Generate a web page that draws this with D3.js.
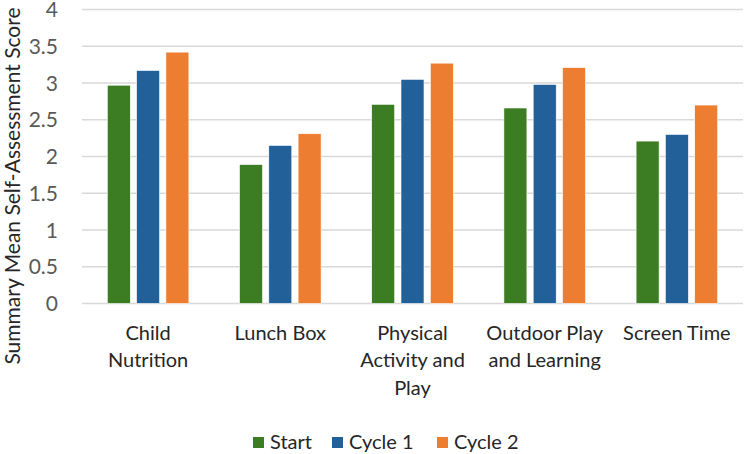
<!DOCTYPE html>
<html>
<head>
<meta charset="utf-8">
<script src="https://cdn.jsdelivr.net/npm/d3@7"></script>
<style>
  body { margin: 0; background: #fff; }
  text { font-family: Lato, "Open Sans", sans-serif; }
</style>
</head>
<body>
<script>
// data
const categories = [
    ['Child', 'Nutrition'],
    ['Lunch Box'],
    ['Physical', 'Activity and', 'Play'],
    ['Outdoor Play', 'and Learning'],
    ['Screen Time']
];
const seriesNames = ['Start', 'Cycle 1', 'Cycle 2'];
const startValues = [2.97, 1.89, 2.71, 2.66, 2.21];
const cycle1Values = [3.17, 2.15, 3.05, 2.98, 2.30];
const cycle2Values = [3.42, 2.31, 3.27, 3.21, 2.70];
const yTicks = [0, 0.5, 1, 1.5, 2, 2.5, 3, 3.5, 4];
const colors = ['#3c7c23', '#22609a', '#ed7d31'];

const series = [startValues, cycle1Values, cycle2Values];

let width = 744, height = 454;
let margin = {top: 9.5, right: 1, bottom: 150, left: 82};

let svg = d3.select('body').append('svg')
    .attr('width', width)
    .attr('height', height);

let x = d3.scaleBand()
    .domain(d3.range(categories.length))
    .range([margin.left, width - margin.right]);

let y = d3.scaleLinear()
    .domain([0, 4])
    .range([303.5, margin.top]);

// grid
svg.append('g').selectAll('line').data(yTicks).enter().append('line')
    .attr('x1', margin.left)
    .attr('x2', width - margin.right)
    .attr('y1', d => y(d))
    .attr('y2', d => y(d))
    .style('stroke', '#d9d9d9')
    .style('stroke-width', 1.3);

// tick labels
svg.append('g').selectAll('text').data(yTicks).enter().append('text')
    .attr('x', 58)
    .attr('y', d => y(d))
    .attr('dy', '0.36em')
    .attr('text-anchor', 'end')
    .style('font-size', '21px')
    .style('fill', '#595959')
    .text(d => d);

// bars
let barW = 23, gap = 6.3;
series.forEach((vals, s) => {
    svg.append('g').selectAll('rect').data(vals).enter().append('rect')
        .attr('x', (d, i) => x(i) + x.bandwidth() / 2 - 1.5 * barW - gap + s * (barW + gap))
        .attr('y', d => y(d))
        .attr('width', barW)
        .attr('height', d => y(0) - y(d))
        .style('fill', colors[s])
        .style('stroke', '#fff')
        .style('stroke-width', 0.6);
});

// category labels
categories.forEach((lines, i) => {
    let t = svg.append('text')
        .attr('text-anchor', 'middle')
        .style('font-size', '20px')
        .style('fill', '#262626');
    lines.forEach((l, j) => {
        t.append('tspan')
            .attr('x', x(i) + x.bandwidth() / 2)
            .attr('y', 339.5 + j * 27.6)
            .text(l);
    });
});

// y title
svg.append('text')
    .attr('transform', 'translate(19.5,186) rotate(-90)')
    .attr('text-anchor', 'middle')
    .style('font-size', '21px')
    .style('fill', '#262626')
    .text('Summary Mean Self-Assessment Score');

// legend
let legendX = [253, 332, 437];
seriesNames.forEach((name, s) => {
    svg.append('rect')
        .attr('x', legendX[s])
        .attr('y', 437)
        .attr('width', 11)
        .attr('height', 11)
        .style('fill', colors[s]);
    svg.append('text')
        .attr('x', legendX[s] + 17)
        .attr('y', 448.5)
        .style('font-size', '20px')
        .style('fill', '#262626')
        .text(name);
});
</script>
</body>
</html>
